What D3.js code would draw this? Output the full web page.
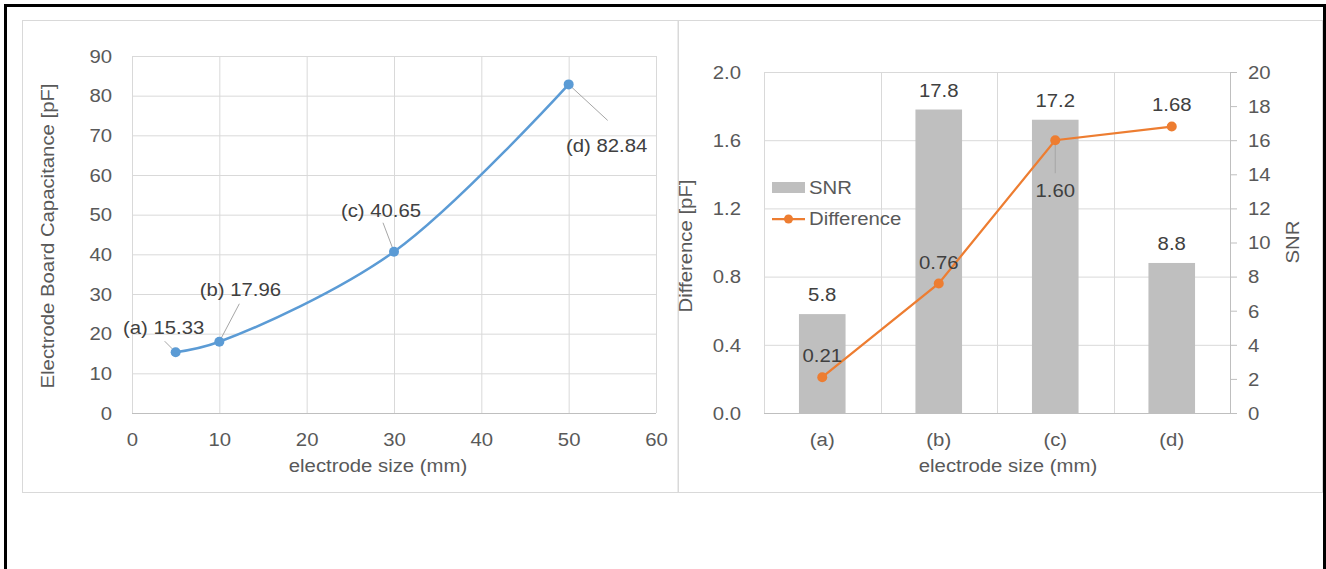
<!DOCTYPE html>
<html><head><meta charset="utf-8">
<script src="https://cdn.jsdelivr.net/npm/d3@7"></script>
<style>
html,body{margin:0;padding:0;background:#fff;}
svg text{font-family:"Liberation Sans",Arial,sans-serif;}
</style></head>
<body>
<svg id="c" width="1326" height="569"></svg>
<script>
// ---- data ----
const sizesMM = [5, 10, 30, 50];
const capacitance = [15.33, 17.96, 40.65, 82.84];
const capLabels = ["(a) 15.33", "(b) 17.96", "(c) 40.65", "(d) 82.84"];
const xTicksLeft = [0, 10, 20, 30, 40, 50, 60];
const yTicksLeft = [0, 10, 20, 30, 40, 50, 60, 70, 80, 90];

const categories = ["(a)", "(b)", "(c)", "(d)"];
const snr = [5.8, 17.8, 17.2, 8.8];
const difference = [0.21, 0.76, 1.60, 1.68];
const diffTicks = [0, 0.4, 0.8, 1.2, 1.6, 2.0];
const snrTicks = [0, 2, 4, 6, 8, 10, 12, 14, 16, 18, 20];

// ---- style ----
const SX = 1.13;
const FS = 18;
const TXT = "#595959", LBL = "#404040", GRID = "#d9d9d9", AXIS = "#bfbfbf";
const BLUE = "#5b9bd5", ORANGE = "#ed7d31", BAR = "#bfbfbf";

const svg = d3.select("#c");

function T(g, x, y, s, anchor, opt = {}) {
  const rot = opt.rotate ? ` rotate(${opt.rotate})` : "";
  return g.append("text")
    .attr("transform", `translate(${x},${y})${rot} scale(${SX},1)`)
    .attr("text-anchor", anchor)
    .attr("dy", "0.35em")
    .attr("font-size", opt.size || FS)
    .attr("fill", opt.color || TXT)
    .text(s);
}
function styleAxisText(g, dx, dy, anchor) {
  g.selectAll(".tick text")
    .attr("x", null).attr("y", null).attr("dy", "0.35em")
    .attr("transform", `translate(${dx},${dy}) scale(${SX},1)`)
    .attr("text-anchor", anchor)
    .attr("font-size", FS).attr("fill", TXT)
    .attr("font-family", '"Liberation Sans",Arial,sans-serif');
}

// outer black frame and chart boxes
svg.append("rect").attr("x", 5.5).attr("y", 5.5).attr("width", 1319).attr("height", 620)
  .attr("fill", "none").attr("stroke", "#000").attr("stroke-width", 3);
svg.append("rect").attr("x", 22.5).attr("y", 20.5).attr("width", 655.5).attr("height", 472)
  .attr("fill", "none").attr("stroke", GRID);
svg.append("rect").attr("x", 678.5).attr("y", 20.5).attr("width", 644).attr("height", 472)
  .attr("fill", "none").attr("stroke", GRID);

// ================= LEFT CHART =================
{
  const L = 132, R = 656, TOP = 56, B = 413;
  const x = d3.scaleLinear([0, 60], [L, R]);
  const y = d3.scaleLinear([0, 90], [B, TOP]);
  const g = svg.append("g");

  g.append("g").attr("transform", `translate(0,${B})`)
    .call(d3.axisBottom(x).tickValues(xTicksLeft).tickSize(-(B - TOP)).tickFormat(""))
    .call(a => a.select(".domain").remove())
    .call(a => a.selectAll("line").attr("stroke", GRID));
  g.append("g").attr("transform", `translate(${L},0)`)
    .call(d3.axisLeft(y).tickValues(yTicksLeft).tickSize(-(R - L)).tickFormat(""))
    .call(a => a.select(".domain").remove())
    .call(a => a.selectAll("line").attr("stroke", GRID));
  g.append("line").attr("x1", L).attr("x2", R).attr("y1", B + 0.5).attr("y2", B + 0.5).attr("stroke", AXIS);

  const ax = g.append("g").attr("transform", `translate(0,${B})`)
    .call(d3.axisBottom(x).tickValues(xTicksLeft).tickSize(0).tickFormat(d3.format("d")));
  ax.select(".domain").remove();
  styleAxisText(ax, 0, 27, "middle");
  const ay = g.append("g").attr("transform", `translate(${L},0)`)
    .call(d3.axisLeft(y).tickValues(yTicksLeft).tickSize(0).tickFormat(d3.format("d")));
  ay.select(".domain").remove();
  styleAxisText(ay, -20, 0, "end");

  T(g, 378, 466, "electrode size (mm)", "middle");
  T(g, 48, 236, "Electrode Board Capacitance [pF]", "middle", { rotate: -90 });

  const pts = sizesMM.map((s, i) => [x(s), y(capacitance[i])]);
  g.append("path").attr("d", d3.line().curve(d3.curveCatmullRom.alpha(0.5))(pts))
    .attr("fill", "none").attr("stroke", BLUE).attr("stroke-width", 2.5);

  const lab = [
    { dx: -12, dy: -25, lx: -11, ly: -11 },
    { dx: 21, dy: -52, lx: 20, ly: -38 },
    { dx: -13, dy: -41, lx: -11, ly: -29 },
    { dx: 38, dy: 61, lx: 39, ly: 36 }
  ];
  pts.forEach((p, i) => {
    const o = lab[i];
    g.append("line").attr("x1", p[0]).attr("y1", p[1]).attr("x2", p[0] + o.lx).attr("y2", p[1] + o.ly)
      .attr("stroke", "#a6a6a6").attr("stroke-width", 1);
  });
  g.selectAll("circle.pt").data(pts).join("circle").attr("class", "pt")
    .attr("cx", d => d[0]).attr("cy", d => d[1]).attr("r", 5).attr("fill", BLUE);
  pts.forEach((p, i) => {
    const o = lab[i];
    T(g, p[0] + o.dx, p[1] + o.dy, capLabels[i], "middle", { color: LBL });
  });
}

// ================= RIGHT CHART =================
{
  const L = 764, R = 1230, TOP = 72, B = 413;
  const x = d3.scaleBand(categories, [L, R]).paddingInner(0.6).paddingOuter(0.3);
  const yD = d3.scaleLinear([0, 2], [B, TOP]);
  const yS = d3.scaleLinear([0, 20], [B, TOP]);
  const g = svg.append("g");
  const step = x.step();

  g.append("g").attr("transform", `translate(${L},0)`)
    .call(d3.axisLeft(yD).tickValues(diffTicks).tickSize(-(R - L)).tickFormat(""))
    .call(a => a.select(".domain").remove())
    .call(a => a.selectAll("line").attr("stroke", GRID));
  const vlines = [0, 1, 2, 3, 4].map(i => L + i * step);
  g.selectAll("line.vg").data(vlines).join("line").attr("class", "vg")
    .attr("x1", d => Math.round(d) + 0.5).attr("x2", d => Math.round(d) + 0.5)
    .attr("y1", TOP).attr("y2", B).attr("stroke", GRID);

  const aR = g.append("g").attr("transform", `translate(${R},0)`)
    .call(d3.axisRight(yS).tickValues(snrTicks).tickSize(7).tickFormat(d3.format("d")));
  aR.select(".domain").attr("stroke", AXIS).attr("d", `M0.5,${TOP}V${B}`);
  aR.selectAll(".tick line").attr("stroke", AXIS);
  styleAxisText(aR, 18, 0, "start");

  const aL = g.append("g").attr("transform", `translate(${L},0)`)
    .call(d3.axisLeft(yD).tickValues(diffTicks).tickSize(0).tickFormat(d3.format(".1f")));
  aL.select(".domain").remove();
  styleAxisText(aL, -23, 0, "end");

  g.append("line").attr("x1", L).attr("x2", R + 7).attr("y1", B + 0.5).attr("y2", B + 0.5).attr("stroke", AXIS);
  const aB = g.append("g").attr("transform", `translate(0,${B})`)
    .call(d3.axisBottom(x).tickSize(0));
  aB.select(".domain").remove();
  styleAxisText(aB, 0, 27, "middle");

  g.selectAll("rect.bar").data(snr).join("rect").attr("class", "bar")
    .attr("x", (d, i) => x(categories[i])).attr("width", x.bandwidth())
    .attr("y", d => yS(d)).attr("height", d => B - yS(d)).attr("fill", BAR);
  snr.forEach((v, i) => T(g, x(categories[i]) + x.bandwidth() / 2, yS(v) - 19, d3.format(".1f")(v), "middle", { color: LBL }));

  const pts = difference.map((v, i) => [x(categories[i]) + x.bandwidth() / 2, yD(v)]);
  g.append("line").attr("x1", pts[2][0]).attr("x2", pts[2][0]).attr("y1", pts[2][1]).attr("y2", pts[2][1] + 33)
    .attr("stroke", "#a6a6a6");
  g.append("path").attr("d", d3.line()(pts)).attr("fill", "none").attr("stroke", ORANGE).attr("stroke-width", 2.25);
  g.selectAll("circle.dp").data(pts).join("circle").attr("class", "dp")
    .attr("cx", d => d[0]).attr("cy", d => d[1]).attr("r", 5).attr("fill", ORANGE);
  const offs = [-22, -21, 50, -22];
  difference.forEach((v, i) => T(g, pts[i][0], pts[i][1] + offs[i], d3.format(".2f")(v), "middle", { color: LBL }));

  T(g, 1008, 466, "electrode size (mm)", "middle");
  T(g, 686, 246, "Difference [pF]", "middle", { rotate: -90 });
  T(g, 1293, 242, "SNR", "middle", { rotate: -90 });

  g.append("rect").attr("x", 772).attr("y", 182).attr("width", 33).attr("height", 11).attr("fill", BAR);
  T(g, 809, 188, "SNR", "start");
  g.append("line").attr("x1", 772).attr("x2", 805).attr("y1", 219).attr("y2", 219).attr("stroke", ORANGE).attr("stroke-width", 2.25);
  g.append("circle").attr("cx", 788.5).attr("cy", 219).attr("r", 4.5).attr("fill", ORANGE);
  T(g, 809, 219, "Difference", "start");
}
</script>
</body></html>
